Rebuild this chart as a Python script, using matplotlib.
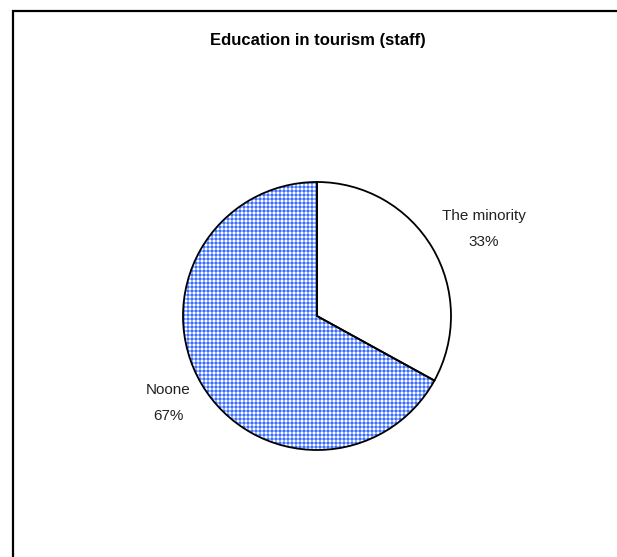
import numpy as np
import matplotlib
matplotlib.use("Agg")
import matplotlib.pyplot as plt
from matplotlib.patches import Rectangle

plt.rcParams['font.family'] = ['Liberation Sans', 'DejaVu Sans']

title = "Education in tourism (staff)"
names = ["The minority", "Noone"]
shares = [33, 67]

W, H = 617, 557
fig = plt.figure(figsize=(W / 100, H / 100), dpi=100)
fig.patch.set_facecolor("white")

# frame round the chart area (cut by the image edge on right and bottom)
fig.patches.append(Rectangle((13 / W, -0.05), 1.2, 1 - 11 / H + 0.05,
                             transform=fig.transFigure, fill=False,
                             edgecolor="black", linewidth=1.6))

fig.text(318 / W, 1 - 40 / H, title, ha="center", va="center",
         fontsize=12, fontweight="bold")

cx, cy, r = 317, 316, 134
ax = fig.add_axes([(cx - r) / W, (H - cy - r) / H, 2 * r / W, 2 * r / H])
ax.set_xlim(-1, 1)
ax.set_ylim(-1, 1)
ax.set_aspect("equal")
ax.axis("off")

labels = ["{}\n{}%".format(n, s) for n, s in zip(names, shares)]
wedges, texts = ax.pie(shares, labels=labels, startangle=90, counterclock=False,
                       colors=["white", "none"], radius=1, labeldistance=1.39,
                       wedgeprops=dict(edgecolor="black", linewidth=1.3),
                       textprops=dict(fontsize=11, linespacing=2.1, color="#222222"))
# label spots as placed in the original chart (pixel offsets from the centre / radius)
label_pos = [(1.246, 0.649), (-1.112, -0.649)]
for t, p in zip(texts, label_pos):
    t.set_position(p)
    t.set_ha("center")
    t.set_va("center")
    t.set_multialignment("center")

# gingham-like blue/white fill for the second slice (4 px period)
n = 2 * r
ii, jj = np.indices((n, n))
rows = (ii % 4) < 2
cols = (jj % 4) < 2
pattern = rows.astype(int) + cols.astype(int)
cmap = matplotlib.colors.ListedColormap(["white", "#93b0ff", "#3f6dff"])
im = ax.imshow(pattern, extent=[-1, 1, -1, 1], cmap=cmap, vmin=0, vmax=2,
               interpolation="nearest", zorder=0.5)
im.set_clip_path(wedges[1])
ax.set_xlim(-1, 1)
ax.set_ylim(-1, 1)

fig.savefig("out.png", dpi=100)
